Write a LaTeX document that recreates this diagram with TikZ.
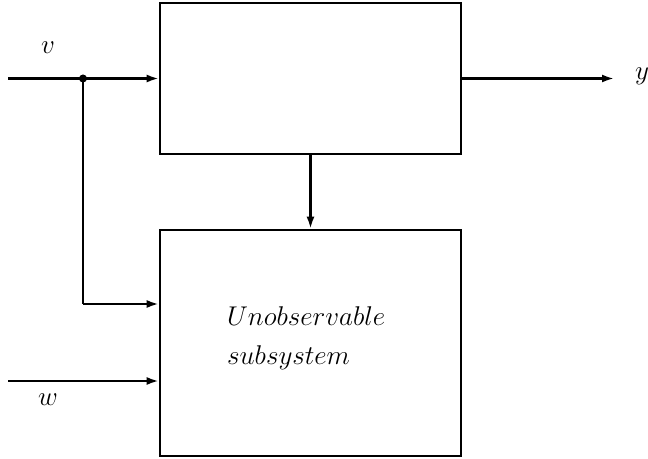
\documentclass[tikz,border=0pt]{standalone}
\usetikzlibrary{arrows.meta}
\usetikzlibrary{positioning}

\newcommand{\sig}[1]{\scalebox{0.93}{$#1$}}

\tikzset{
  blk/.style={draw,line width=2.2pt,inner sep=0pt},
  arr/.style={line width=1.9pt,-{Latex[length=0.36cm,width=0.24cm]}},
  lbl/.style={font=\Huge},
}

\begin{document}
\begin{tikzpicture}[x=0.03cm,y=-0.03cm]
\useasboundingbox (0,0) rectangle (648,459);
% blocks
\node[blk,minimum width=9.03cm,minimum height=4.53cm] (plant) at (310.5,78.5) {};
\node[blk,minimum width=9.03cm,minimum height=6.78cm] (unobs) at (310.5,343) {};
\node[lbl,anchor=west] (txtA) at (223,316) {\sig{Unobservable}};
\node[lbl,anchor=west] (txtB) at (223,358) {\sig{subsystem}};

% signals
\coordinate (vin) at (8,78.5);
\coordinate (split) at (83,78.5);
\coordinate (bend) at (83,304);
\coordinate (win) at (8,381);
\coordinate (yout) at (614,78.5);
\node[lbl] (vlab) at (48,48) {\sig{v}};
\node[lbl] (wlab) at (48,400) {\sig{w}};
\node[lbl] (ylab) at (642,76) {\sig{y}};

\draw[arr] (vin) -- (plant.west);
\fill (split) circle (4);
\draw[line width=1.9pt] (split) -- (bend);
\draw[arr] (bend) -- (bend -| unobs.west);
\draw[arr] (win) -- (win -| unobs.west);
\draw[arr] (plant.east) -- (yout);
\draw[arr] (plant.south) -- (unobs.north);

\end{tikzpicture}
\end{document}
